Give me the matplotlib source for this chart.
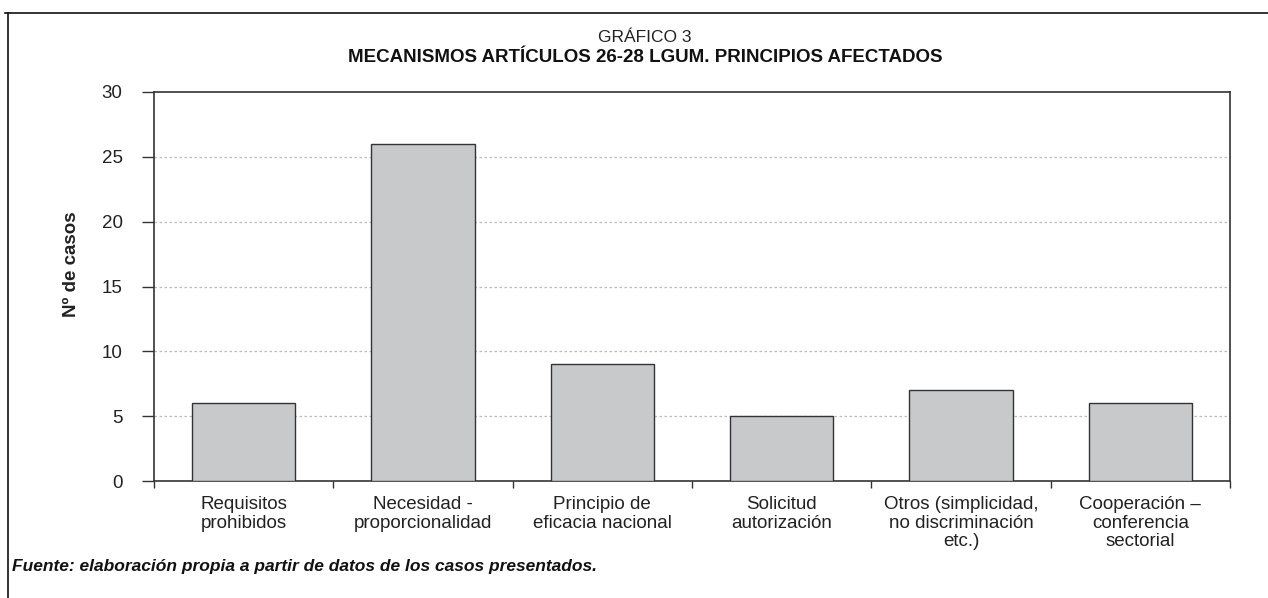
import matplotlib.pyplot as plt
from matplotlib.lines import Line2D

plt.rcParams['font.family'] = ['Liberation Sans', 'DejaVu Sans']

categorias = ['Requisitos\nprohibidos', 'Necesidad -\nproporcionalidad',
              'Principio de\neficacia nacional', 'Solicitud\nautorización',
              'Otros (simplicidad,\nno discriminación\netc.)',
              'Cooperación –\nconferencia\nsectorial']
casos = [6, 26, 9, 5, 7, 6]
yticks = [0, 5, 10, 15, 20, 25, 30]

W, H = 1268, 598
fig = plt.figure(figsize=(W / 100, H / 100), dpi=100)
ax = fig.add_axes([154 / W, 1 - 481 / H, (1230 - 154) / W, (481 - 92) / H])

x = list(range(len(casos)))
ax.bar(x, casos, width=0.575, color='#c8c9ca', edgecolor='#333333', linewidth=1.0, zorder=3)

ax.set_xlim(-0.5, len(casos) - 0.5)
ax.set_ylim(0, 30)
ax.set_yticks(yticks)
ax.set_yticklabels([str(v) for v in yticks], fontsize=13.5, color='#222222')
ax.tick_params(axis='y', length=8.6, width=1, color='#333333', pad=14)

# ticks en los limites de categoria, etiquetas centradas
ax.set_xticks([i - 0.5 for i in range(len(casos) + 1)])
ax.set_xticklabels([])
ax.set_xticks(x, minor=True)
ax.set_xticklabels(categorias, minor=True, fontsize=13.5, color='#222222', linespacing=1.1)
ax.tick_params(axis='x', which='major', length=5, width=1, color='#333333')
ax.tick_params(axis='x', which='minor', length=0, pad=11)

for v in yticks[1:-1]:
    ax.axhline(v, color='#bbbbbb', linestyle=(0, (2, 2)), linewidth=0.9, zorder=1)

for s in ax.spines.values():
    s.set_color('#333333')
    s.set_linewidth(1.2)

fig.text(72 / W, 1 - 264 / H, 'Nº de casos', rotation=90, ha='center', va='center',
         fontsize=13.5, fontweight='bold', color='#222222')

fig.text(645 / W, 1 - 37 / H, 'GRÁFICO 3', ha='center', va='center', fontsize=12.5, color='#222222')
fig.text(645 / W, 1 - 58 / H,
         'MECANISMOS ARTÍCULOS 26-28 LGUM. PRINCIPIOS AFECTADOS',
         ha='center', va='center', fontsize=13.5, fontweight='bold', color='#111111')
fig.text(12 / W, 1 - 567 / H, 'Fuente: elaboración propia a partir de datos de los casos presentados.',
         ha='left', va='center', fontsize=12.5, fontweight='bold', fontstyle='italic', color='#111111')

# marco de la figura (arriba e izquierda)
fig.add_artist(Line2D([5 / W, 1], [1 - 13 / H, 1 - 13 / H], color='#111111', linewidth=1.2))
fig.add_artist(Line2D([8 / W, 8 / W], [1 - 13 / H, 0], color='#111111', linewidth=1.2))

fig.savefig('out.png', dpi=100)
